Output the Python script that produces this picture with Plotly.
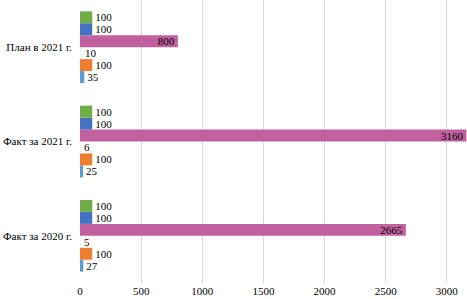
import plotly.graph_objects as go

categories = ["Факт за 2020 г.", "Факт за 2021 г.", "План в 2021 г."]
# series listed bottom-to-top within each group
series_names = ["Ряд 6", "Ряд 5", "Ряд 4", "Ряд 3", "Ряд 2", "Ряд 1"]
series_colors = ["#5B9BD5", "#ED7D31", "#EEF3F9", "#C0609F", "#4472C4", "#70AD47"]
s6 = [27, 25, 35]
s5 = [100, 100, 100]
s4 = [5, 6, 10]
s3 = [2665, 3160, 800]
s2 = [100, 100, 100]
s1 = [100, 100, 100]
series_values = [s6, s5, s4, s3, s2, s1]
x_ticks = [0, 500, 1000, 1500, 2000, 2500, 3000]

fig = go.Figure()
for name, color, vals in zip(series_names, series_colors, series_values):
    big = name == "Ряд 3"
    fig.add_trace(go.Bar(
        y=categories, x=vals, orientation="h", name=name,
        marker=dict(color=color, line=dict(width=0)),
        text=[str(v) for v in vals],
        textposition="inside" if big else "outside",
        insidetextanchor="end",
        constraintext="none",
        cliponaxis=False,
        textfont=dict(family="Liberation Serif", size=11, color="#000000"),
        outsidetextfont=dict(family="Liberation Serif", size=11, color="#000000"),
        insidetextfont=dict(family="Liberation Serif", size=11, color="#000000"),
        textangle=0,
    ))

fig.update_layout(
    width=467, height=299,
    margin=dict(l=80, r=0, t=0, b=16, autoexpand=False),
    barmode="group", bargap=0.24, bargroupgap=0,
    showlegend=False,
    plot_bgcolor="white", paper_bgcolor="white",
    font=dict(family="Liberation Serif", size=11, color="#000000"),
)
fig.update_xaxes(range=[0, 3165], tickvals=x_ticks, ticktext=[str(t) for t in x_ticks],
                 showgrid=True, gridcolor="#D9D9D9", gridwidth=1, zeroline=False,
                 showline=False, ticks="", tickfont=dict(size=11), automargin=False)
fig.update_yaxes(showgrid=False, ticks="", showline=False, ticklabelstandoff=7,
                 tickfont=dict(size=11), automargin=False)

fig.write_html("out.html", config={"displayModeBar": False},
               post_script="document.body.style.margin='0';")
